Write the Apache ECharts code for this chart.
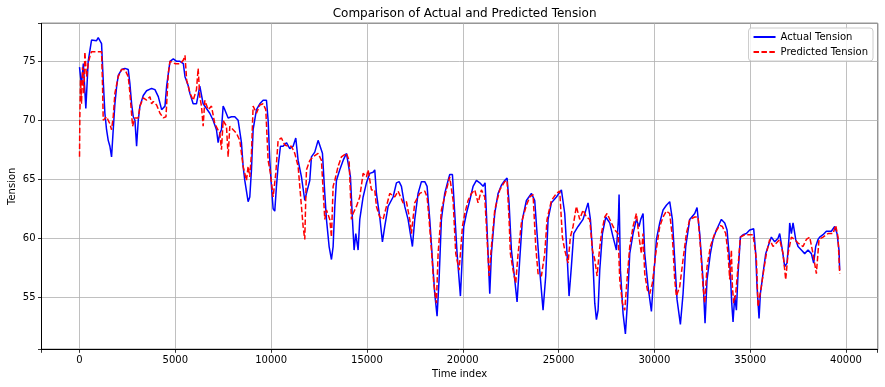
<!DOCTYPE html>
<html>
<head>
<meta charset="utf-8">
<script src="https://cdn.jsdelivr.net/npm/echarts@6/dist/echarts.min.js"></script>
<style>html,body{margin:0;padding:0;background:#fff}#c{width:885px;height:387px}</style>
</head>
<body>
<div id="c"></div>
<script>
const titleText = 'Comparison of Actual and Predicted Tension';
const xLabel = 'Time index';
const yLabel = 'Tension';
const seriesNames = ['Actual Tension', 'Predicted Tension'];

const actualTime = [0,100,200,330,453,627,714,888,976,1063,1150,1237,1324,1411,1498,1585,1672,1759,1847,1934,2021,2195,2369,2543,2630,2718,2805,2892,2979,3066,3153,3327,3501,3763,3937,4111,4285,4460,4547,4721,4895,5069,5243,5418,5505,5679,
5756,5930,6104,6278,6452,6626,6799,6973,7147,7234,7321,7408,7495,7582,7756,7930,8104,8278,8451,8538,8625,8799,8886,8973,9060,9234,9408,9582,9756,9843,9930,10017,10104,10190,10277,10364,10486,10625,10799,10973,11147,11286,11408,11582,11756,11843,12016,12103,12277,12451,
12539,12678,12800,12887,13026,13148,13235,13322,13409,13582,13756,13930,14017,14139,14243,14330,14417,14539,14626,14800,14974,15148,15321,15408,15495,15669,15808,15930,16104,16365,16539,16678,16800,16973,17147,17373,17495,17669,17843,18017,18139,18278,18417,18539,18660,18765,18886,19060,19234,19321,
19461,19583,19705,19878,19983,20052,20192,20365,20539,20713,20887,21061,21165,21235,21322,21409,21496,21670,21844,22017,22191,22313,22417,22539,22713,22835,22974,23113,23322,23583,23756,23878,24017,24191,24330,24452,24626,24887,25148,25322,25443,25548,25669,25791,26017,26278,26539,
26662,26767,26889,26976,27062,27149,27289,27462,27671,27845,28019,28123,28158,28228,28367,28488,28593,28715,28888,29062,29201,29288,29410,29497,29671,29845,29967,30106,30280,30454,30627,30801,30940,31062,31184,31358,31497,31636,31845,32106,32227,32366,32540,32645,32749,32923,33062,33236,
33324,33498,33672,33793,33898,33967,34037,34106,34193,34280,34367,34489,34628,34802,34976,35184,35289,35358,35463,35532,35671,35811,35932,36106,36280,36454,36541,36680,36802,36923,37028,37063,37150,37237,37376,37497,37671,37845,38019,38193,38314,38419,38541,38628,38802,38976,39236,39410,39532,39636,39671];
const actualValue = [74.5,73.0,74.8,71.0,75.0,76.8,76.9,76.75,77.0,76.95,76.5,73.4,70.6,69.2,68.3,67.8,66.9,69.2,71.4,72.8,73.8,74.3,74.4,74.3,73.1,71.4,70.3,70.0,67.8,70.0,71.2,72.1,72.5,72.7,72.6,72.0,70.9,71.2,72.9,75.0,75.2,75.0,75.0,74.8,73.7,72.9,
72.3,71.4,71.4,72.9,71.4,71.0,70.6,70.0,69.2,68.1,68.9,69.2,71.2,70.9,70.2,70.3,70.3,70.0,68.1,66.1,64.9,63.1,63.5,65.8,69.2,70.9,71.4,71.7,71.7,70.0,66.6,64.4,62.5,62.3,64.4,66.1,67.8,67.8,68.1,67.6,67.8,68.5,66.6,65.2,63.2,63.8,64.9,66.9,67.3,68.3,
68.3,67.2,63.8,61.6,59.3,58.2,59.3,62.7,64.9,65.8,66.6,67.2,67.3,65.2,61.6,59.0,60.4,59.0,61.6,63.5,64.7,65.5,65.6,65.8,63.8,61.8,59.7,61.0,62.7,63.5,64.7,64.8,64.4,62.7,61.6,59.3,61.6,63.8,64.8,64.8,64.4,61.6,58.2,55.3,53.4,56.5,61.6,63.8,64.9,65.4,
65.4,62.1,58.7,55.1,58.7,61.0,62.1,63.2,64.4,64.9,64.7,64.4,64.7,62.1,58.7,55.3,58.7,62.1,63.8,64.5,64.9,65.1,63.0,59.0,56.5,54.6,58.2,61.6,63.2,63.8,63.2,60.4,57.3,53.9,56.8,61.6,63.0,63.5,64.1,62.1,58.7,55.1,57.6,60.4,61.0,61.6,63.0,
61.6,59.0,54.5,53.1,53.9,57.3,60.4,61.8,61.3,60.1,59.0,61.6,63.7,57.3,53.6,51.9,54.5,58.7,60.4,61.6,61.0,61.6,62.1,58.7,55.9,53.8,56.8,59.9,61.3,62.4,62.8,63.1,61.6,58.2,54.8,52.7,55.3,59.3,61.6,62.1,62.6,60.4,56.5,52.8,56.5,58.7,59.9,60.7,
61.0,61.6,61.3,60.7,58.7,57.0,54.5,52.9,55.1,53.9,57.0,60.1,60.3,60.4,60.7,60.8,58.7,55.9,53.2,55.3,57.0,58.7,59.3,60.1,59.7,60.0,60.4,59.0,57.6,57.9,60.1,61.3,60.4,61.3,59.9,59.3,59.0,58.7,59.0,58.7,57.9,59.3,59.9,60.1,60.3,60.6,60.6,61.0,60.4,59.0,57.3];

const predTime = [0,17,52,105,157,226,279,366,453,540,627,888,1150,1202,1237,1411,1585,1672,1759,1847,2021,2195,2369,2543,2630,2770,2892,3066,3153,3327,3501,3676,3763,3850,4024,4198,4372,4512,4634,4721,4982,5243,5418,5505,5592,5766,
5930,6104,6191,6278,6365,6452,6539,6712,6886,7060,7321,7408,7495,7669,7756,7843,8017,8191,8364,8538,8712,8799,8886,8973,9060,9234,9408,9582,9721,9843,9965,10104,10243,10364,10538,10712,10886,11060,11234,11408,11495,11669,11756,11843,12016,12190,12451,12625,
12800,12887,13061,13148,13235,13322,13495,13669,13930,14069,14191,14278,14452,14626,14800,14974,15061,15234,15408,15495,15669,15843,16017,16191,16452,16626,16887,17060,17234,17321,17495,17756,18017,18139,18243,18365,18486,18626,18713,18886,19147,19321,
19496,19635,19809,19878,19983,20105,20278,20452,20626,20800,20974,21148,21235,21374,21496,21670,21931,22191,22313,22417,22487,22626,22765,22887,23061,23322,23496,23670,23809,23930,24104,24278,24400,24626,24887,25061,25200,25322,25496,25617,25756,25930,26104,26278,26452,
26628,26767,26889,27010,27115,27236,27410,27532,27758,27932,28106,28193,28332,28454,28575,28715,28888,29062,29201,29323,29410,29497,29636,29758,29897,30071,30280,30454,30627,30801,30940,31062,31149,31323,31497,31671,31845,32106,32280,32401,32540,32627,32749,32923,33149,33410,
33550,33724,33845,33932,34019,34072,34141,34245,34367,34489,34715,34889,35150,35324,35411,35498,35584,35706,35845,36019,36193,36367,36541,36715,36854,36976,37150,37323,37497,37758,37932,38106,38280,38454,38593,38802,39063,39323,39462,39584,39671];
const predValue = [66.9,70.3,73.4,71.4,74.5,72.3,75.8,73.7,74.8,75.4,75.8,75.8,75.8,72.9,70.0,70.3,69.7,69.2,70.3,72.3,73.7,74.3,74.3,73.7,72.3,69.5,70.2,70.2,71.2,71.9,71.7,72.0,71.4,71.6,71.3,70.6,70.2,70.3,74.0,75.0,74.8,74.8,75.1,75.5,73.4,72.3,
71.7,72.6,74.4,72.0,71.2,69.5,71.7,70.9,71.2,69.7,68.9,67.5,70.0,69.5,66.9,69.5,69.2,68.9,68.3,66.1,64.9,66.1,65.2,67.2,71.2,70.6,71.3,71.4,70.9,66.6,65.5,63.5,65.5,68.3,68.5,67.9,67.8,67.8,67.2,66.1,64.4,61.0,59.9,65.8,66.6,66.9,67.2,66.6,
61.6,62.4,61.6,60.1,64.4,64.9,66.1,66.9,67.2,66.6,61.6,62.1,62.7,63.5,65.5,65.2,65.8,64.1,64.1,62.7,61.8,61.6,62.7,63.8,63.5,64.0,63.0,63.1,61.6,60.4,63.0,63.8,64.0,63.5,61.6,59.0,56.2,54.5,58.7,62.4,64.1,65.2,
63.2,58.7,57.3,58.7,61.0,62.1,63.2,63.8,64.1,63.0,64.1,63.5,61.0,56.8,59.3,62.4,64.1,64.8,64.9,61.6,58.7,57.3,56.2,58.7,61.3,62.8,63.5,63.7,59.3,57.0,56.8,58.7,61.6,63.2,63.8,64.0,60.1,59.0,57.9,60.1,61.0,62.7,61.6,62.4,61.8,
61.6,59.0,58.2,56.8,58.7,60.4,61.8,62.1,61.3,60.7,60.4,56.5,54.5,53.9,56.5,59.3,61.0,62.1,60.1,58.7,60.4,57.0,55.6,55.3,56.2,58.7,61.0,61.8,62.3,62.1,60.1,56.5,55.1,55.9,58.2,60.4,61.6,61.8,61.8,59.3,55.9,54.5,57.6,59.3,60.4,61.1,
61.0,60.4,58.7,56.5,59.0,55.9,54.5,55.3,57.6,60.1,60.3,60.3,60.3,58.2,54.2,55.1,55.9,57.3,58.7,59.9,59.3,59.6,59.9,58.7,56.5,58.7,60.1,59.9,59.6,59.3,59.9,60.1,58.7,57.0,59.9,60.1,60.4,60.4,61.1,60.1,57.0];

const xMin = -1984, xMax = 41655, yMin = 50.59, yMax = 78.22;

const pairs = (ts, vs) => ts.map((t, i) => [t, vs[i]]);
const FONT = 'DejaVu Sans';
const chart = echarts.init(document.getElementById('c'), null, {renderer: 'canvas'});
const axisCommon = {
  axisLine: {show: true, onZero: false, lineStyle: {color: '#000', width: 1}},
  axisTick: {show: true, length: 3.5, lineStyle: {color: '#000', width: 0.8}},
  splitLine: {show: true, lineStyle: {color: '#b0b0b0', width: 0.8}},
  nameMoveOverlap: false,
  nameTextStyle: {fontFamily: FONT, fontSize: 10, color: '#000'}
};
chart.setOption({
  animation: false,
  backgroundColor: '#fff',
  title: {text: titleText, left: 459.6, top: 3, textAlign: 'center',
    textStyle: {fontFamily: FONT, fontSize: 12, fontWeight: 'normal', color: '#000'}},
  grid: {left: 41.5, right: 7.3, top: 23.3, bottom: 37.7, containLabel: false, outerBoundsMode: 'none',
    show: true, borderColor: '#000', borderWidth: 1, backgroundColor: 'transparent'},
  legend: {
    data: seriesNames, orient: 'vertical', right: 12, top: 28,
    itemWidth: 22, itemHeight: 8, itemGap: 5,
    itemStyle: {opacity: 0},
    backgroundColor: 'rgba(255,255,255,0.8)', borderColor: '#cccccc', borderWidth: 1, borderRadius: 3,
    padding: [4, 5, 4, 4],
    textStyle: {fontFamily: FONT, fontSize: 10, color: '#000'}
  },
  xAxis: Object.assign({}, axisCommon, {
    type: 'value', min: xMin, max: xMax, splitNumber: 9,
    name: xLabel, nameLocation: 'middle', nameGap: 20,
    axisLabel: {fontFamily: FONT, fontSize: 10, color: '#000', margin: 6, showMinLabel: true, showMaxLabel: true,
      formatter: v => (Math.abs(v % 5000) < 1e-6 ? String(v) : '')}
  }),
  yAxis: Object.assign({}, axisCommon, {
    type: 'value', min: yMin, max: yMax, splitNumber: 5,
    name: yLabel, nameLocation: 'middle', nameGap: 24, nameRotate: 90,
    axisLabel: {fontFamily: FONT, fontSize: 10, color: '#000', margin: 6,
      formatter: v => (Math.abs(v % 5) < 1e-6 ? String(v) : '')}
  }),
  series: [
    {name: seriesNames[0], type: 'line', data: pairs(actualTime, actualValue), showSymbol: false, symbol: 'none',
      lineStyle: {color: '#0000ff', width: 1.5}, itemStyle: {color: '#0000ff'}},
    {name: seriesNames[1], type: 'line', data: pairs(predTime, predValue), showSymbol: false, symbol: 'none',
      lineStyle: {color: '#ff0000', width: 1.5, type: [5.5, 2.4]}, itemStyle: {color: '#ff0000'}}
  ]
});
</script>
</body>
</html>
